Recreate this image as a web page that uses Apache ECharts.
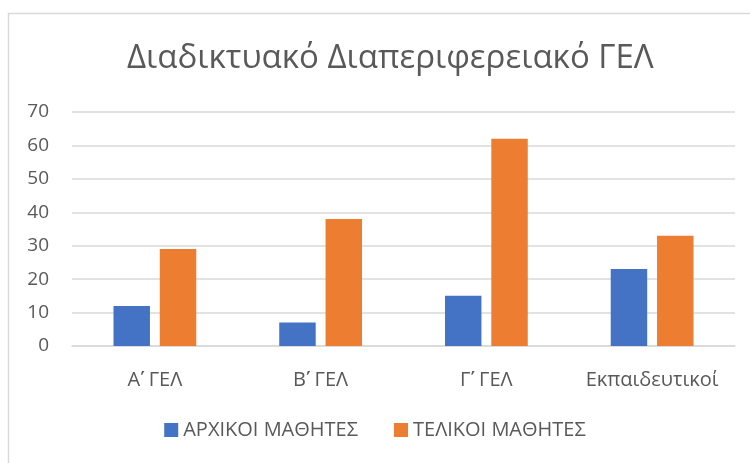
<!DOCTYPE html>
<html>
<head>
<meta charset="utf-8">
<script src="https://cdn.jsdelivr.net/npm/echarts@6/dist/echarts.min.js"></script>
<style>
  html, body { margin: 0; padding: 0; background: #fff; }
  #chart { width: 750px; height: 463px; }
</style>
</head>
<body>
<div id="chart"></div>
<script>
var categories = ["Α\u0374 ΓΕΛ", "Β\u0374 ΓΕΛ", "Γ\u0374 ΓΕΛ", "Εκπαιδευτικοί"];
var seriesNames = ["ΑΡΧΙΚΟΙ ΜΑΘΗΤΕΣ", "ΤΕΛΙΚΟΙ ΜΑΘΗΤΕΣ"];
var initialStudents = [12, 7, 15, 23];
var finalStudents = [29, 38, 62, 33];

var font = "'Open Sans', 'Noto Sans', sans-serif";
var textColor = "#595959";

var myChart = echarts.init(document.getElementById("chart"));
var option = {
  animation: false,
  textStyle: { fontFamily: font },
  title: {
    text: "Διαδικτυακό Διαπεριφερειακό ΓΕΛ",
    left: 122,
    top: 37,
    textStyle: { fontFamily: font, fontSize: 33, fontWeight: "normal", color: textColor }
  },
  graphic: [{
    type: "rect",
    shape: { x: 8.5, y: 13.5, width: 800, height: 500 },
    style: { fill: "none", stroke: "#d9d9d9", lineWidth: 1.5 },
    silent: true
  }],
  legend: {
    data: seriesNames,
    bottom: 18,
    left: "center",
    itemWidth: 14,
    itemHeight: 14,
    itemGap: 36,
    icon: "rect",
    textStyle: { fontFamily: font, fontSize: 20, color: textColor }
  },
  grid: { left: 72, right: 15, top: 112, bottom: 117 },
  xAxis: {
    type: "category",
    data: categories,
    axisLine: { lineStyle: { color: "#d9d9d9", width: 1.5 } },
    axisTick: { show: false },
    axisLabel: { interval: 0, fontFamily: font, fontSize: 20, color: textColor, margin: 24 }
  },
  yAxis: {
    type: "value",
    min: 0,
    max: 70,
    interval: 10,
    axisLine: { show: false },
    axisTick: { show: false },
    splitLine: { lineStyle: { color: "#d9d9d9", width: 1.5 } },
    axisLabel: { fontFamily: font, fontSize: 19, color: textColor, margin: 23 }
  },
  series: [
    {
      name: seriesNames[0],
      type: "bar",
      data: initialStudents,
      barWidth: "22%",
      barGap: "27%",
      itemStyle: { color: "#4472C4" }
    },
    {
      name: seriesNames[1],
      type: "bar",
      data: finalStudents,
      barWidth: "22%",
      itemStyle: { color: "#ED7D31" }
    }
  ]
};
myChart.setOption(option);
</script>
</body>
</html>
